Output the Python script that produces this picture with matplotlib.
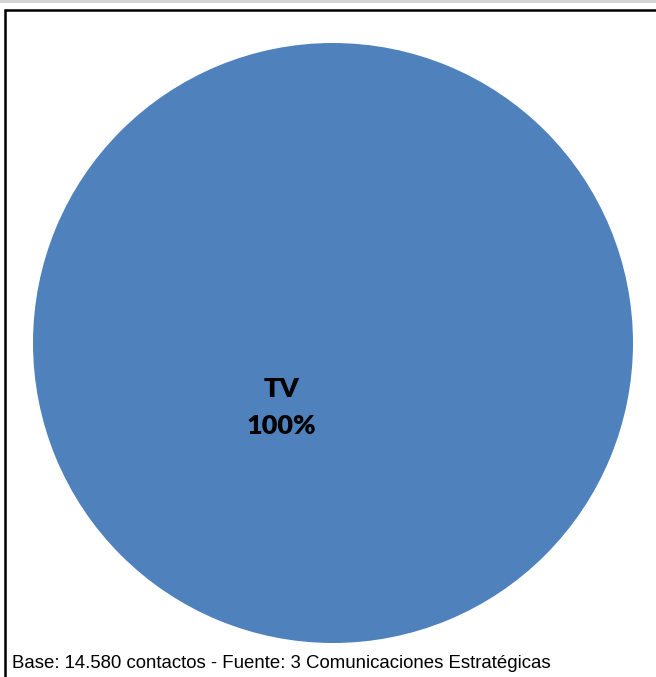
import matplotlib.pyplot as plt
from matplotlib.patches import Rectangle

# data
labels = ["TV"]
shares = [100]
pie_colors = ["#4F81BD"]
footer = "Base: 14.580 contactos - Fuente: 3 Comunicaciones Estratégicas"

W, H = 656, 677
fig = plt.figure(figsize=(W / 100, H / 100), dpi=100)
fig.patch.set_facecolor("white")

# thin grey strip at the very top and the frame of the chart area
fig.patches.append(Rectangle((0, 1 - 3 / H), 1, 3 / H, transform=fig.transFigure,
                             facecolor="#d4d4d4", edgecolor="none"))
fig.patches.append(Rectangle((4.5 / W, -0.1), 1.1, 1 - 9.5 / H + 0.1, transform=fig.transFigure,
                             facecolor="none", edgecolor="black", linewidth=1.8))

ax = fig.add_axes([33 / W, 1 - 643 / H, 600 / W, 600 / H])
wedges, _ = ax.pie(shares, colors=pie_colors, startangle=90, counterclock=False,
                   wedgeprops=dict(linewidth=0))
ax.set_aspect("equal")
ax.set_xlim(-1, 1)
ax.set_ylim(-1, 1)
ax.axis("off")

ax.text(-0.173, -0.215, f"{labels[0]}\n{shares[0]}%", ha="center", va="center",
        fontsize=19.5, fontweight="heavy", family="Lato", linespacing=1.62, color="black")

fig.text(12 / W, 1 - 663 / H, footer, ha="left", va="center",
         fontsize=13.4, family="Liberation Sans", color="black")

fig.savefig("out.png", dpi=100)
